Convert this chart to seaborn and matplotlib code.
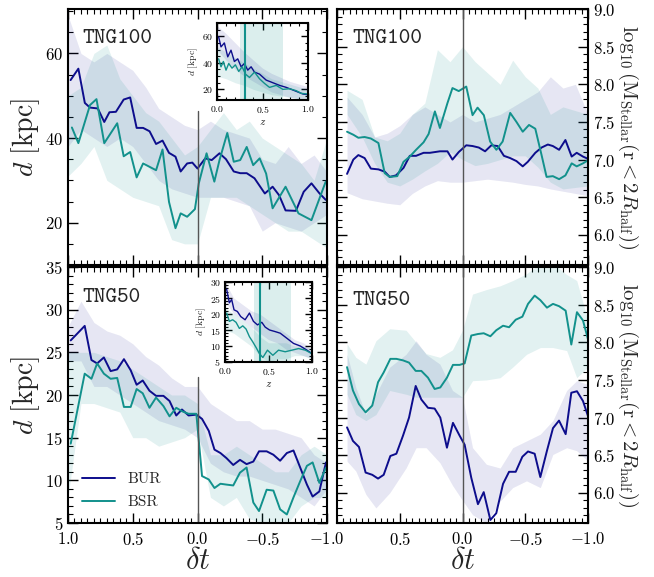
import numpy as np
import pandas as pd
import matplotlib
matplotlib.use("Agg")
import matplotlib.pyplot as plt
import seaborn as sns
from matplotlib.ticker import MultipleLocator

# ---- TNG100, distance d (top left)
tl_bur_x = [0.98, 0.92, 0.87, 0.83, 0.77, 0.72, 0.68, 0.63, 0.57, 0.52, 0.47, 0.42, 0.37, 0.32, 0.27,
            0.22, 0.17, 0.13, 0.08, 0.04, 0.0, -0.06, -0.11, -0.17, -0.22, -0.28, -0.33, -0.38, -0.44,
            -0.52, -0.58, -0.63, -0.68, -0.76, -0.82, -0.88, -0.94, -0.99]
tl_bur_y = [53.7, 56.4, 48.3, 47.2, 47.0, 43.8, 46.1, 46.2, 49.1, 49.6, 42.4, 42.4, 41.6, 38.6, 39.4,
            36.5, 35.6, 32.1, 34.0, 34.2, 32.8, 35.2, 34.8, 36.4, 35.0, 32.1, 31.7, 31.7, 30.5,
            26.9, 28.5, 26.5, 22.9, 22.8, 27.3, 29.3, 27.0, 25.4]
tl_bsr_x = [0.97, 0.92, 0.83, 0.78, 0.72, 0.62, 0.57, 0.52, 0.47, 0.42, 0.32, 0.27, 0.22, 0.17, 0.13,
            0.08, 0.02, -0.01, -0.07, -0.13, -0.17, -0.23, -0.28, -0.33, -0.38, -0.43, -0.48, -0.53,
            -0.58, -0.68, -0.78, -0.88, -0.99]
tl_bsr_y = [42.5, 38.8, 47.8, 49.2, 38.8, 43.5, 35.7, 36.7, 30.7, 34.0, 32.4, 37.3, 24.9, 18.7, 22.2,
            21.4, 23.2, 29.3, 36.4, 29.7, 34.8, 41.2, 34.4, 34.8, 37.9, 33.6, 35.2, 31.6,
            23.4, 28.5, 22.2, 20.6, 29.7]
tl_band_x = [1.0, 0.9, 0.8, 0.7, 0.6, 0.5, 0.4, 0.3, 0.2, 0.1, 0.0, -0.1, -0.2, -0.3, -0.4, -0.5,
             -0.6, -0.7, -0.8, -0.9, -1.0]
tl_bur_hi = [69, 60, 58, 60, 58, 56, 52, 47, 45, 43, 42, 44, 42, 41, 40, 35, 34, 38, 34, 36, 32]
tl_bur_lo = [38, 42, 40, 38, 40, 38, 34, 30, 28, 27, 26, 26, 26, 25, 24, 18, 20, 19, 18, 20, 22]
tl_bsr_hi = [50, 52, 60, 62, 54, 50, 46, 44, 40, 36, 38, 42, 46, 42, 44, 40, 38, 36, 34, 30, 40]
tl_bsr_lo = [31, 34, 38, 30, 28, 26, 25, 24, 16, 15, 15, 26, 26, 26, 24, 22, 20, 18, 18, 16, 14]

# ---- TNG100, stellar mass (top right)
tr_bur_x = [0.92, 0.87, 0.83, 0.78, 0.73, 0.67, 0.62, 0.58, 0.53, 0.47, 0.42, 0.37, 0.31, 0.26, 0.18,
            0.12, 0.08, 0.03, -0.03, -0.08, -0.13, -0.18, -0.23, -0.28, -0.33, -0.38, -0.43, -0.48,
            -0.52, -0.58, -0.63, -0.68, -0.72, -0.77, -0.82, -0.87, -0.91, -0.96, -1.0]
tr_bur_y = [6.81, 7.0, 7.06, 7.02, 6.88, 6.87, 6.84, 6.77, 6.79, 6.89, 7.05, 7.05, 7.09, 7.09, 7.11,
            7.11, 7.0, 7.10, 7.19, 7.18, 7.16, 7.11, 7.19, 7.18, 7.05, 7.02, 6.98, 6.91,
            6.97, 7.09, 7.16, 7.20, 7.18, 7.13, 7.26, 7.04, 7.09, 7.04, 7.01]
tr_bsr_x = [0.92, 0.87, 0.83, 0.78, 0.73, 0.67, 0.62, 0.58, 0.52, 0.47, 0.42, 0.37, 0.31, 0.27, 0.22,
            0.18, 0.12, 0.08, 0.03, -0.03, -0.08, -0.12, -0.17, -0.22, -0.27, -0.32, -0.38, -0.43,
            -0.48, -0.53, -0.58, -0.63, -0.67, -0.72, -0.77, -0.82, -0.87, -0.91, -0.96, -1.0]
tr_bsr_y = [7.37, 7.33, 7.29, 7.30, 7.28, 7.22, 6.82, 6.77, 6.78, 6.97, 7.04, 7.13, 7.23, 7.34, 7.64,
            7.42, 7.75, 7.95, 7.91, 7.97, 7.59, 7.69, 7.59, 7.24, 7.13, 7.24, 7.62, 7.50,
            7.37, 7.46, 7.41, 7.06, 6.77, 6.78, 6.74, 6.79, 6.95, 6.91, 6.95, 6.99]
tr_band_x = [0.92, 0.8, 0.7, 0.6, 0.5, 0.4, 0.3, 0.2, 0.1, 0.0, -0.1, -0.2, -0.3, -0.4, -0.5, -0.6,
             -0.7, -0.8, -0.9, -1.0]
tr_bur_hi = [7.83, 7.6, 7.3, 7.35, 7.45, 7.6, 7.7, 7.6, 7.5, 7.6, 7.5, 7.55, 7.6, 7.7, 7.8, 7.9,
             8.1, 7.95, 8.0, 7.6]
tr_bur_lo = [6.56, 6.48, 6.45, 6.42, 6.40, 6.55, 6.65, 6.72, 6.7, 6.7, 6.72, 6.74, 6.72, 6.7, 6.67,
             6.65, 6.61, 6.58, 6.55, 6.52]
tr_bsr_hi = [7.92, 7.8, 7.3, 7.25, 7.35, 7.6, 7.75, 8.46, 8.3, 8.5, 8.3, 8.15, 8.0, 8.32, 8.1, 7.95,
             7.6, 7.7, 7.65, 7.6]
tr_bsr_lo = [7.6, 7.3, 6.95, 6.7, 6.65, 6.74, 6.85, 6.95, 7.1, 7.0, 6.92, 6.95, 7.0, 7.05, 7.05, 6.9,
             6.7, 6.61, 6.63, 6.65]

# ---- TNG50, distance d (bottom left)
bl_x = [0.979, 0.871, 0.819, 0.775, 0.723, 0.671, 0.620, 0.568, 0.516, 0.470, 0.423, 0.371, 0.320,
        0.263, 0.216, 0.164, 0.120, 0.069, 0.009, -0.035, -0.087, -0.131, -0.177, -0.224, -0.276,
        -0.328, -0.379, -0.431, -0.475, -0.534, -0.586, -0.638, -0.690, -0.741, -0.793, -0.845,
        -0.889, -0.941, -0.992]
bl_bur_y = [26.4, 28.1, 24.1, 23.7, 24.4, 22.8, 23.0, 24.2, 22.9, 21.2, 21.7, 20.5, 19.9,
            19.9, 19.3, 17.6, 18.3, 17.6, 17.7, 17.2, 15.8, 13.6, 13.2, 12.6, 11.8,
            12.4, 11.9, 12.2, 13.4, 13.4, 13.0, 12.3, 13.2, 13.5, 11.5, 9.5, 8.1, 8.7, 12.1]
bl_bsr_y = [14.3, 22.5, 21.9, 23.7, 22.5, 21.9, 22.0, 18.6, 18.6, 20.7, 20.2, 18.5, 19.7,
            18.7, 17.5, 18.5, 18.1, 17.8, 17.8, 10.5, 10.1, 9.1, 9.6, 9.5, 9.4,
            10.9, 11.5, 7.4, 6.4, 8.9, 8.8, 6.6, 6.0, 8.0, 9.9, 11.7, 12.1, 9.7, 11.5]
bl_band_x = tl_band_x
bl_bur_hi = [28, 31, 28.5, 27.5, 27, 26, 24.5, 23.5, 22, 21, 21, 19, 18, 17, 17, 16, 16, 15.5, 15, 13, 12]
bl_bur_lo = [24, 24, 21, 21, 20, 19, 18, 17, 16.5, 16, 15, 12, 11, 10.5, 10.5, 10, 9.5, 9, 8, 7, 9]
bl_bsr_hi = [25, 25, 25, 24.5, 24, 23, 22, 21, 20, 20, 19, 13, 13, 14, 13, 12, 11, 11, 13, 14, 13]
bl_bsr_lo = [8, 19, 19, 18.5, 18, 15, 15, 14, 14.5, 15, 16, 8, 7, 8, 5.5, 5, 5, 5, 7, 8, 8]

# ---- TNG50, stellar mass (bottom right)
br_x = [0.920, 0.873, 0.825, 0.772, 0.719, 0.673, 0.628, 0.575, 0.527, 0.474, 0.426, 0.373, 0.328,
        0.275, 0.222, 0.177, 0.124, 0.076, 0.023, -0.017, -0.070, -0.123, -0.169, -0.222, -0.269,
        -0.323, -0.371, -0.424, -0.477, -0.522, -0.575, -0.620, -0.673, -0.721, -0.769, -0.822,
        -0.867, -0.912, -0.960, -1.0]
br_bur_y = [6.87, 6.69, 6.61, 6.27, 6.24, 6.19, 6.24, 6.49, 6.52, 6.76, 7.0, 7.42, 7.24,
            7.13, 7.12, 7.0, 6.6, 6.93, 6.76, 6.64, 6.2, 5.85, 6.01, 5.64, 5.73,
            6.12, 6.28, 6.28, 6.48, 6.55, 6.52, 6.21, 6.56, 6.86, 6.96, 6.78, 7.33, 7.35, 7.22, 7.02]
br_bsr_y = [7.67, 7.36, 7.18, 7.07, 7.16, 7.47, 7.60, 7.78, 7.78, 7.76, 7.73, 7.62, 7.62,
            7.53, 7.38, 7.40, 7.53, 7.70, 7.70, 7.72, 8.09, 8.11, 8.12, 8.08, 8.16,
            8.22, 8.20, 8.30, 8.34, 8.51, 8.62, 8.56, 8.46, 8.51, 8.48, 8.42, 7.97, 8.40, 8.29, 8.04]
br_band_x = [0.92, 0.85, 0.77, 0.69, 0.58, 0.45, 0.37, 0.29, 0.18, 0.08, 0.0, -0.08, -0.19, -0.30,
             -0.40, -0.51, -0.62, -0.72, -0.83, -0.91, -1.0]
br_bur_hi = [7.84, 7.4, 7.04, 7.31, 7.67, 7.84, 8.02, 7.84, 7.71, 7.36, 7.27, 6.6, 6.38, 6.33,
             6.6, 6.69, 6.78, 6.96, 7.36, 7.49, 7.44]
br_bur_lo = [6.42, 6.29, 5.98, 5.8, 6.0, 6.33, 6.6, 6.6, 6.4, 6.1, 5.9, 5.71, 5.6, 5.89,
             6.07, 6.16, 6.07, 6.51, 6.6, 6.56, 6.42]
br_bsr_hi = [7.98, 7.8, 7.71, 8.02, 8.18, 8.16, 8.0, 7.85, 7.8, 7.9, 8.16, 8.64, 8.7, 8.75,
             8.82, 8.91, 9.05, 9.05, 8.9, 8.82, 8.29]
br_bsr_lo = [7.31, 7.04, 6.96, 7.04, 7.36, 7.31, 7.27, 7.27, 7.27, 7.27, 7.27, 7.49, 7.5, 7.53,
             7.67, 7.84, 7.93, 7.93, 7.89, 7.53, 7.67]

# ---- insets: d vs redshift z
in_band_z = [0.0, 0.1, 0.2, 0.3, 0.4, 0.5, 0.6, 0.7, 0.8, 0.9, 1.0]
ti_bur_z = [0.018, 0.044, 0.081, 0.118, 0.154, 0.191, 0.228, 0.265, 0.301, 0.338, 0.375, 0.412,
            0.467, 0.540, 0.614, 0.688, 0.761, 0.835, 0.890, 0.945, 1.0]
ti_bur_y = [59.5, 52, 55, 44.5, 49.5, 41, 43, 37, 39.5, 34.5, 37, 33, 31.5, 27, 25, 23, 21.5,
            19.5, 18, 16.5, 16]
ti_bsr_z = [0.018, 0.044, 0.07, 0.099, 0.129, 0.165, 0.202, 0.239, 0.276, 0.313, 0.357, 0.412,
            0.467, 0.522, 0.577, 0.651, 0.724, 0.798, 0.871, 0.926, 1.0]
ti_bsr_y = [43, 37, 41, 34.5, 39.5, 36, 38.5, 33.5, 37, 31.5, 29, 33, 28, 24.5, 21.5, 23, 20,
            20.5, 19, 17, 16.5]
ti_bur_hi = [68, 62, 55, 48, 42, 36, 32, 29, 26, 24, 22]
ti_bur_lo = [50, 42, 35, 30, 26, 22, 18, 16, 14, 13, 12]
ti_bsr_hi = [52, 48, 44, 40, 36, 32, 28, 26, 24, 22, 20]
ti_bsr_lo = [30, 28, 25, 23, 20, 18, 16, 15, 14, 13, 12]
ti_zline, ti_zspan = 0.31, (0.25, 0.72)

bi_bur_z = [0.019, 0.05, 0.077, 0.104, 0.142, 0.181, 0.231, 0.281, 0.327, 0.373, 0.423, 0.462,
            0.512, 0.577, 0.635, 0.712, 0.788, 0.865, 0.942, 1.0]
bi_bur_y = [27.7, 23.5, 24.5, 21.3, 20.8, 19.2, 18.2, 20.3, 17.7, 16.6, 17.4, 15.9, 15.0, 14.5,
            14.0, 12.4, 10.8, 10.0, 8.7, 7.6]
bi_bsr_z = [0.019, 0.05, 0.088, 0.127, 0.165, 0.204, 0.242, 0.281, 0.319, 0.358, 0.396, 0.435,
            0.488, 0.55, 0.615, 0.692, 0.769, 0.846, 0.923, 1.0]
bi_bsr_y = [20.3, 17.7, 18.2, 17.4, 15.5, 16.3, 15.3, 12.9, 11.3, 9.5, 7.6, 6.4, 8.7, 7.1, 8.7,
            8.2, 8.7, 9.2, 8.7, 7.6]
bi_bur_hi = [30, 25, 23, 21, 20, 18, 16, 14, 12, 11, 9]
bi_bur_lo = [24, 20, 18, 16, 14, 12, 11, 9, 8, 7, 6]
bi_bsr_hi = [22, 20, 18, 16, 13, 11, 11, 11, 10, 10, 9]
bi_bsr_lo = [15, 14, 12, 10, 7, 5, 6, 6, 7, 7, 6]
bi_zline, bi_zspan = 0.40, (0.335, 0.76)

BUR_C = "#0d0d8c"
BSR_C = "#12918c"

sns.set_style("ticks")
plt.rcParams.update({
    "font.family": ["cmr10", "DejaVu Serif"],
    "mathtext.fontset": "cm",
    "axes.formatter.use_mathtext": True,
    "axes.unicode_minus": True,
    "axes.linewidth": 1.5,
    "axes.edgecolor": "black",
    "xtick.direction": "in", "ytick.direction": "in",
    "xtick.top": True, "ytick.right": True,
    "xtick.major.size": 7, "ytick.major.size": 7,
    "xtick.minor.size": 3.5, "ytick.minor.size": 3.5,
    "xtick.major.width": 1.0, "ytick.major.width": 1.0,
    "xtick.minor.width": 0.8, "ytick.minor.width": 0.8,
    "xtick.major.pad": 5.5,
    "xtick.color": "black", "ytick.color": "black",
    "xtick.labelsize": 12, "ytick.labelsize": 12,
})

fig = plt.figure(figsize=(6.54, 5.77), dpi=100)
L, LW = 68 / 654, 259 / 654
R, RW = 337 / 654, 251 / 654
H = 256 / 577
ax_tl = fig.add_axes([L, 1 - 265 / 577, LW, H])
ax_tr = fig.add_axes([R, 1 - 265 / 577, RW, H])
ax_bl = fig.add_axes([L, 1 - 523 / 577, LW, H])
ax_br = fig.add_axes([R, 1 - 523 / 577, RW, H])


def draw(ax, bx, bur_hi, bur_lo, bsr_hi, bsr_lo, xa, ya, xb, yb, lw=1.4, labels=False):
    ax.fill_between(bx, bur_lo, bur_hi, color=BUR_C, alpha=0.1, lw=0)
    ax.fill_between(bx, bsr_lo, bsr_hi, color=BSR_C, alpha=0.12, lw=0)
    sns.lineplot(x=xa, y=ya, ax=ax, color=BUR_C, lw=lw, estimator=None, sort=False,
                 label="BUR" if labels else None, legend=False)
    sns.lineplot(x=xb, y=yb, ax=ax, color=BSR_C, lw=lw, estimator=None, sort=False,
                 label="BSR" if labels else None, legend=False)


draw(ax_tl, tl_band_x, tl_bur_hi, tl_bur_lo, tl_bsr_hi, tl_bsr_lo, tl_bur_x, tl_bur_y, tl_bsr_x, tl_bsr_y)
draw(ax_tr, tr_band_x, tr_bur_hi, tr_bur_lo, tr_bsr_hi, tr_bsr_lo, tr_bur_x, tr_bur_y, tr_bsr_x, tr_bsr_y)
draw(ax_bl, bl_band_x, bl_bur_hi, bl_bur_lo, bl_bsr_hi, bl_bsr_lo, bl_x, bl_bur_y, bl_x, bl_bsr_y, labels=True)
draw(ax_br, br_band_x, br_bur_hi, br_bur_lo, br_bsr_hi, br_bsr_lo, br_x, br_bur_y, br_x, br_bsr_y)

for ax in [ax_tl, ax_tr, ax_bl, ax_br]:
    ax.set_xlim(1.0, -1.0)
    ax.xaxis.set_major_locator(MultipleLocator(0.5))
    ax.xaxis.set_minor_locator(MultipleLocator(0.05))
    ax.set_xlabel("")
    ax.set_ylabel("")
    ax.tick_params(which="both", top=True, right=True, left=True, bottom=True)

ax_tl.axvline(0, ymax=0.6, color="#555555", lw=1.0)
ax_bl.axvline(0, ymax=0.57, color="#555555", lw=1.0)
ax_tr.axvline(0, color="#555555", lw=1.0)
ax_br.axvline(0, color="#555555", lw=1.0)

ax_tl.set_ylim(10, 70.5)
ax_tl.yaxis.set_major_locator(MultipleLocator(20))
ax_tl.yaxis.set_minor_locator(MultipleLocator(5))
ax_bl.set_ylim(5, 35)
ax_bl.yaxis.set_major_locator(MultipleLocator(5))
ax_bl.yaxis.set_minor_locator(MultipleLocator(1))
for ax in [ax_tr, ax_br]:
    ax.set_ylim(5.6, 9.0)
    ax.yaxis.set_major_locator(MultipleLocator(0.5))
    ax.yaxis.set_minor_locator(MultipleLocator(0.1))
    ax.tick_params(labelleft=False, labelright=True)
    ax.yaxis.set_label_position("right")
    ax.set_ylabel(r"$\log_{10}(\mathrm{M}_{\mathrm{Stellar}}(\mathrm{r}<2R_{\mathrm{half}}))$",
                  fontsize=15, rotation=270, labelpad=18)

ax_tl.tick_params(labelbottom=False)
ax_tr.tick_params(labelbottom=False)
ax_br.set_xticks([0.5, 0.0, -0.5, -1.0])

for ax in [ax_tl, ax_bl]:
    ax.set_ylabel(r"$d\ [\mathrm{kpc}]$", fontsize=20, labelpad=2)
for ax in [ax_bl, ax_br]:
    ax.set_xlabel(r"$\delta t$", fontsize=22, labelpad=0)

ax_tl.text(0.055, 0.885, "TNG100", transform=ax_tl.transAxes, fontsize=16, family="cmtt10", va="center")
ax_tr.text(0.06, 0.885, "TNG100", transform=ax_tr.transAxes, fontsize=16, family="cmtt10", va="center")
ax_bl.text(0.055, 0.88, "TNG50", transform=ax_bl.transAxes, fontsize=16, family="cmtt10", va="center")
ax_br.text(0.06, 0.87, "TNG50", transform=ax_br.transAxes, fontsize=16, family="cmtt10", va="center")

ax_bl.legend(loc="lower left", frameon=False, fontsize=11, handlelength=2.2, labelspacing=0.6)

# insets
in_t = fig.add_axes([217 / 654, 1 - 100 / 577, 91 / 654, 77 / 577])
in_b = fig.add_axes([225 / 654, 1 - 362 / 577, 87 / 654, 80 / 577])
for ax, zl, zs, args in [
    (in_t, ti_zline, ti_zspan, (ti_bur_hi, ti_bur_lo, ti_bsr_hi, ti_bsr_lo, ti_bur_z, ti_bur_y, ti_bsr_z, ti_bsr_y)),
    (in_b, bi_zline, bi_zspan, (bi_bur_hi, bi_bur_lo, bi_bsr_hi, bi_bsr_lo, bi_bur_z, bi_bur_y, bi_bsr_z, bi_bsr_y)),
]:
    ax.axvspan(zs[0], zs[1], color=BSR_C, alpha=0.15, lw=0)
    draw(ax, in_band_z, *args, lw=1.0)
    ax.axvline(zl, color=BSR_C, lw=1.5)
    ax.set_xlim(0, 1)
    ax.xaxis.set_major_locator(MultipleLocator(0.5))
    ax.xaxis.set_minor_locator(MultipleLocator(0.1))
    ax.tick_params(which="both", labelsize=7, top=True, right=True, pad=3)
    ax.tick_params(which="major", length=5)
    ax.tick_params(which="minor", length=2.5)
    ax.set_xlabel(r"$z$", fontsize=8, labelpad=2)
    ax.set_ylabel(r"$d\ [\mathrm{kpc}]$", fontsize=7, labelpad=1)

in_t.set_ylim(12, 70)
in_t.yaxis.set_major_locator(MultipleLocator(20))
in_t.yaxis.set_minor_locator(MultipleLocator(5))
in_b.set_ylim(5, 30)
in_b.yaxis.set_major_locator(MultipleLocator(5))
in_b.yaxis.set_minor_locator(MultipleLocator(1))

fig.savefig("out.png", dpi=100)
